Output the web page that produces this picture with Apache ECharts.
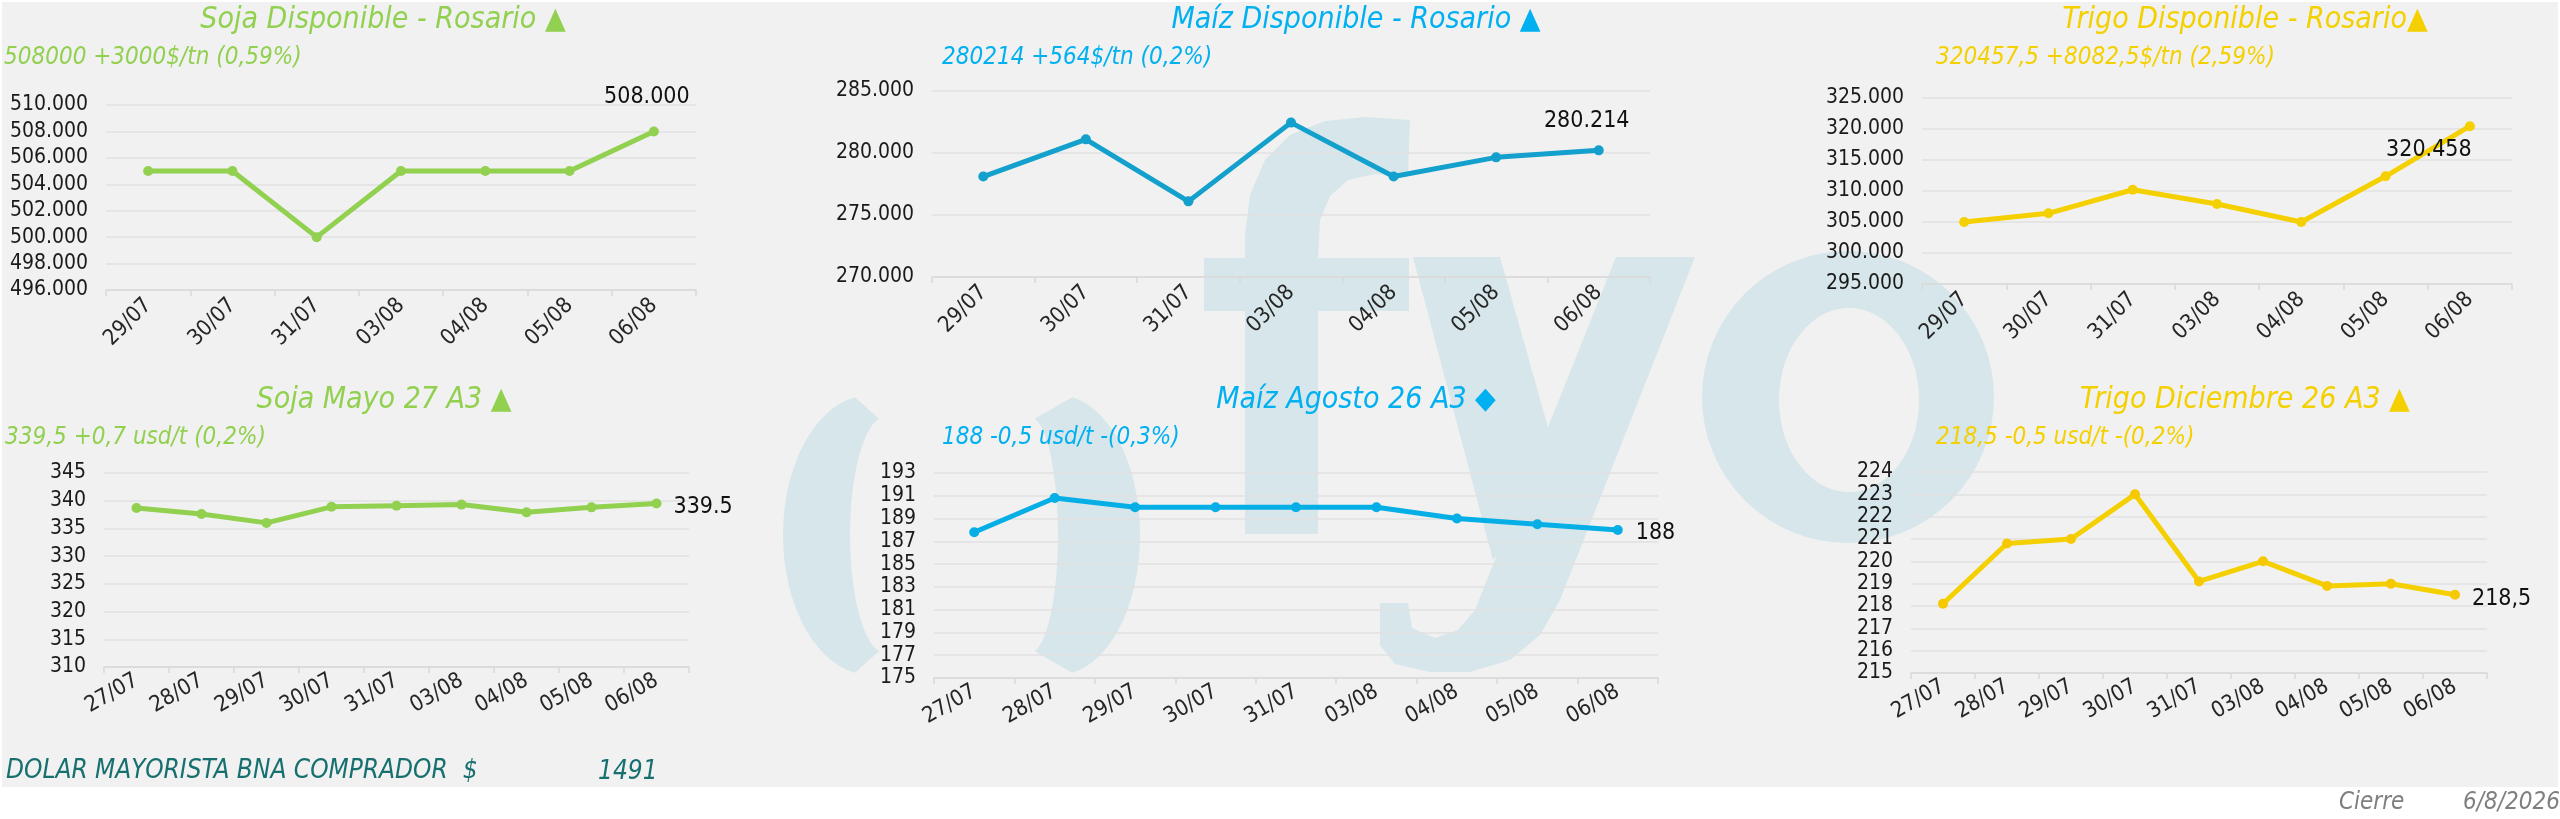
<!DOCTYPE html>
<html>
<head>
<meta charset="utf-8">
<script src="https://cdn.jsdelivr.net/npm/echarts@6/dist/echarts.min.js"></script>
<style>
html,body{margin:0;padding:0;background:#ffffff;}
#c{width:2560px;height:819px;}
</style>
</head>
<body>
<div id="c"></div>
<script>
// ---------- data ----------
const catsTop = ['29/07','30/07','31/07','03/08','04/08','05/08','06/08'];
const catsBottom = ['27/07','28/07','29/07','30/07','31/07','03/08','04/08','05/08','06/08'];

const sojaDisponible = [505000,505000,500000,505000,505000,505000,508000];
const maizDisponible = [278100,281100,276100,282450,278100,279650,280214];
const trigoDisponible = [305000,306400,310200,307900,305000,312375,320457.5];

const sojaMayo27 = [338.7,337.6,336.0,338.9,339.1,339.3,337.9,338.8,339.5];
const maizAgosto26 = [187.8,190.8,190.0,190.0,190.0,190.0,189.0,188.5,188.0];
const trigoDic26 = [218.1,220.8,221.0,223.0,219.1,220.0,218.9,219.0,218.5];

const titles = ['Soja Disponible - Rosario ▲','Maíz Disponible - Rosario ▲','Trigo Disponible - Rosario▲',
                'Soja Mayo 27 A3 ▲','Maíz Agosto 26 A3 ◆','Trigo Diciembre 26 A3 ▲'];
const subtitles = ['508000 +3000$/tn (0,59%)','280214 +564$/tn (0,2%)','320457,5 +8082,5$/tn (2,59%)',
                   '339,5 +0,7 usd/t (0,2%)','188 -0,5 usd/t -(0,3%)','218,5 -0,5 usd/t -(0,2%)'];
const yMin = [496000,270000,295000,310,175,215];
const yMax = [510000,285000,325000,345,193,224];
const yStep = [2000,5000,5000,5,2,1];
const dolarLabel = 'DOLAR MAYORISTA BNA COMPRADOR  $';
const dolarValue = '1491';
const cierreLabel = 'Cierre';
const cierreDate = '6/8/2026';

// ---------- style ----------
const F = "'Liberation Sans Narrow','DejaVu Sans Condensed','Roboto Condensed','Liberation Sans',sans-serif";
const GREEN = '#92d050', BLUE_T = '#00b0f0', BLUE_L1 = '#14a0cc', BLUE_L2 = '#06aee6', YEL = '#f4d000', YEL_M = '#f6c800';
const WM = '#d6e6ea', BG = '#f1f1f1';

function thousands(v){ return Math.round(v).toString().replace(/\B(?=(\d{3})+(?!\d))/g,'.'); }

const grids = [
  {left:106, width:590, top:105, height:185},
  {left:932, width:718, top:91, height:186},
  {left:1922, width:590, top:98, height:186},
  {left:104, width:585, top:473, height:194},
  {left:934, width:724, top:473, height:205},
  {left:1911, width:576, top:472, height:201}
];
const seriesData = [sojaDisponible, maizDisponible, trigoDisponible, sojaMayo27, maizAgosto26, trigoDic26];
const lineColors = [GREEN, BLUE_L1, YEL, GREEN, BLUE_L2, YEL];
const markColors = [GREEN, BLUE_L1, YEL, GREEN, BLUE_L2, YEL_M];
const titleColors = [GREEN, BLUE_T, YEL, GREEN, BLUE_T, YEL];
const titlePos = [[383,20],[1356,20],[2245,20],[384,400],[1356,400],[2245,400]];
const subPos = [[4,58],[942,58],[1936,58],[5,438],[942,438],[1936,438]];
const yFormat = [thousands, thousands, thousands, v=>String(v), v=>String(v), v=>String(v)];
const lastFormat = [thousands, thousands, thousands, v=>String(v), v=>String(v), v=>String(v).replace('.',',')];
const labelPos = ['top','top','bottom','right','right','right'];
const labelOff = [[-7,-13],[-12,-8],[-41,2],[7,4],[8,3],[7,4]];

// ---------- watermark helpers (decoration) ----------
function crescent(cxO, rxO, cxI, rxI, cy, ryO, ryI, dir, tMaxDeg){
  const pts = [];
  const tm = tMaxDeg*Math.PI/180;
  const n = 30;
  for(let i=0;i<=n;i++){ const t=-tm+2*tm*i/n; pts.push([cxO+dir*rxO*Math.cos(t), cy+ryO*Math.sin(t)]); }
  for(let i=n;i>=0;i--){ const t=-tm+2*tm*i/n; pts.push([cxI+dir*rxI*Math.cos(t), cy+ryI*Math.sin(t)]); }
  return pts;
}

const graphics = [
  {type:'rect', z:-3, silent:true, shape:{x:2,y:2,width:2556,height:785}, style:{fill:BG}},
  {type:'polygon', z:-2, silent:true, shape:{points:crescent(870,87,885,35,535,140,118,-1,80)}, style:{fill:WM}},
  {type:'polygon', z:-2, silent:true, shape:{points:crescent(1058,82,1030,28,535,140,118,1,80)}, style:{fill:WM}},
  {type:'polygon', z:-2, silent:true, shape:{points:[[1245,534],[1245,311],[1204,311],[1204,258],[1245,258],[1245,235],[1250,195],[1265,160],[1290,135],[1325,121],[1365,117],[1410,120],[1408,176],[1375,174],[1348,180],[1330,196],[1320,220],[1318,258],[1409,258],[1409,311],[1318,311],[1318,534]]}, style:{fill:WM}},
  {type:'polygon', z:-2, silent:true, shape:{points:[[1413,257],[1500,257],[1560,470],[1493,560]]}, style:{fill:WM}},
  {type:'polygon', z:-2, silent:true, shape:{points:[[1616,257],[1695,257],[1560,600],[1540,635],[1510,660],[1470,672],[1430,672],[1395,664],[1380,645],[1380,603],[1408,603],[1412,628],[1435,638],[1458,630],[1475,610],[1485,585]]}, style:{fill:WM}},
  {type:'circle', z:-2, silent:true, shape:{cx:1848,cy:397,r:146}, style:{fill:WM}},
  {type:'ellipse', z:-1.5, silent:true, shape:{cx:1849,cy:400,rx:70,ry:92}, style:{fill:BG}}
];

for(let i=0;i<6;i++){
  graphics.push({type:'text', x:titlePos[i][0], y:titlePos[i][1], z:5,
    style:{text:titles[i], fill:titleColors[i], font:'italic 30px '+F, align:'center', verticalAlign:'middle', textAlign:'center', textVerticalAlign:'middle'}});
  graphics.push({type:'text', x:subPos[i][0], y:subPos[i][1], z:5,
    style:{text:subtitles[i], fill:titleColors[i], font:'italic 24px '+F, align:'left', verticalAlign:'middle', textAlign:'left', textVerticalAlign:'middle'}});
}
graphics.push({type:'text', x:6, y:771, z:5, style:{text:dolarLabel, fill:'#17706f', font:'italic 26px '+F, align:'left', verticalAlign:'middle', textAlign:'left', textVerticalAlign:'middle'}});
graphics.push({type:'text', x:598, y:772, z:5, style:{text:dolarValue, fill:'#17706f', font:'italic 26px '+F, align:'left', verticalAlign:'middle', textAlign:'left', textVerticalAlign:'middle'}});
graphics.push({type:'text', x:2339, y:803, z:5, style:{text:cierreLabel, fill:'#7f7f7f', font:'italic 24px '+F, align:'left', verticalAlign:'middle', textAlign:'left', textVerticalAlign:'middle'}});
graphics.push({type:'text', x:2463, y:803, z:5, style:{text:cierreDate, fill:'#7f7f7f', font:'italic 24px '+F, align:'left', verticalAlign:'middle', textAlign:'left', textVerticalAlign:'middle'}});

const xAxes = [], yAxes = [], series = [];
for(let i=0;i<6;i++){
  const top = i<3;
  xAxes.push({
    type:'category', gridIndex:i, data: top?catsTop:catsBottom, boundaryGap:true,
    axisLine:{show:true, lineStyle:{color:'#d9d9d9', width:1.5}},
    axisTick:{show:true, length:6, lineStyle:{color:'#d9d9d9', width:1.5}},
    axisLabel:{rotate: top?45:30, margin:12, fontSize:22, color:'#262626', fontFamily:F, interval:0},
    splitLine:{show:false}
  });
  yAxes.push({
    type:'value', gridIndex:i, min:yMin[i], max:yMax[i], interval:yStep[i],
    axisLine:{show:false}, axisTick:{show:false},
    splitLine:{show:true, lineStyle:{color:'#e0e0e0', width:1.5}},
    axisLabel:{margin:18, fontSize:21, color:'#1a1a1a', fontFamily:F, formatter: yFormat[i]}
  });
  const data = seriesData[i];
  const last = data.length-1;
  const lf = lastFormat[i];
  series.push({
    type:'line', xAxisIndex:i, yAxisIndex:i, data:data, z:3,
    symbol:'circle', symbolSize:10, showAllSymbol:true,
    lineStyle:{width:5, color:lineColors[i]},
    itemStyle:{color:markColors[i]},
    label:{show:true, position:labelPos[i], offset:labelOff[i], fontSize:23, color:'#111', fontFamily:F,
      formatter: p => p.dataIndex===last ? lf(p.value) : ''},
    emphasis:{disabled:true},
    animation:false
  });
}

const chart = echarts.init(document.getElementById('c'), null, {renderer:'canvas'});
chart.setOption({
  backgroundColor:'transparent',
  animation:false,
  grid:grids,
  xAxis:xAxes,
  yAxis:yAxes,
  series:series,
  graphic:{elements:graphics}
});
</script>
</body>
</html>
